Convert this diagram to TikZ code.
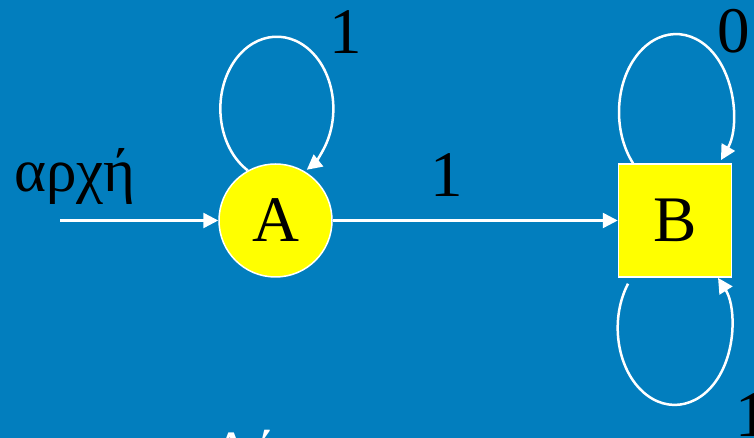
\documentclass[tikz,border=0pt]{standalone}
\usepackage{fontspec}
\setmainfont{Liberation Serif}
\usetikzlibrary{arrows.meta,calc}
\definecolor{bgblue}{RGB}{2,126,190}
\definecolor{stateyellow}{RGB}{255,255,0}
\begin{document}
\begin{tikzpicture}[x=1pt,y=1pt,
  bigfont/.style={font=\fontsize{65}{70}\selectfont},
  conn/.style={draw=white, line width=2.5pt, -{Triangle[length=15pt,width=15pt]}},
  roundstate/.style={circle, fill=stateyellow, draw=white, line width=1.5pt, minimum size=113pt, inner sep=0pt, bigfont},
  squarestate/.style={rectangle, fill=stateyellow, draw=white, line width=1.5pt, minimum size=113pt, inner sep=0pt, bigfont},
  lbl/.style={text=black, inner sep=0pt, bigfont}]
\fill[bgblue] (0,0) rectangle (754,438);
\useasboundingbox (0,0) rectangle (754,438);
\clip (0,0) rectangle (754,438);
% states
\node[roundstate] (A) at (275.5,217.5) {A};
\node[squarestate] (B) at (675,217.5) {B};
% start arrow
\coordinate (start) at (60,217.5);
\node[lbl, anchor=base, font=\fontsize{61}{66}\selectfont] (startlbl) at (75,246) {αρχή};
\draw[conn] (start) -- (A);
% A -> B
\draw[conn] (A) -- (B);
\node[lbl] (lAB) at (447,263) {1};
% loop on A
\draw[conn] (A.119) arc[start angle=239, end angle=-58, x radius=56.5, y radius=72];
\node[lbl] (lAA) at (346,406) {1};
% top loop on B
\draw[conn] ([xshift=-42pt]B.north) arc[start angle=221, end angle=-38, x radius=57, y radius=78];
\node[lbl] (lBB0) at (734,407) {0};
% bottom loop on B
\draw[conn] ([xshift=-47pt,yshift=-6pt]B.south) arc[start angle=145, end angle=400.5, x radius=57, y radius=77];
\node[lbl] (lBB1) at (752,23) {1};
% cut-off text at the bottom
\node[anchor=base west, text=white, inner sep=0pt, font=\fontsize{60}{66}\selectfont] (bottomtext) at (212,-35) {Δέχεται};
\end{tikzpicture}
\end{document}
